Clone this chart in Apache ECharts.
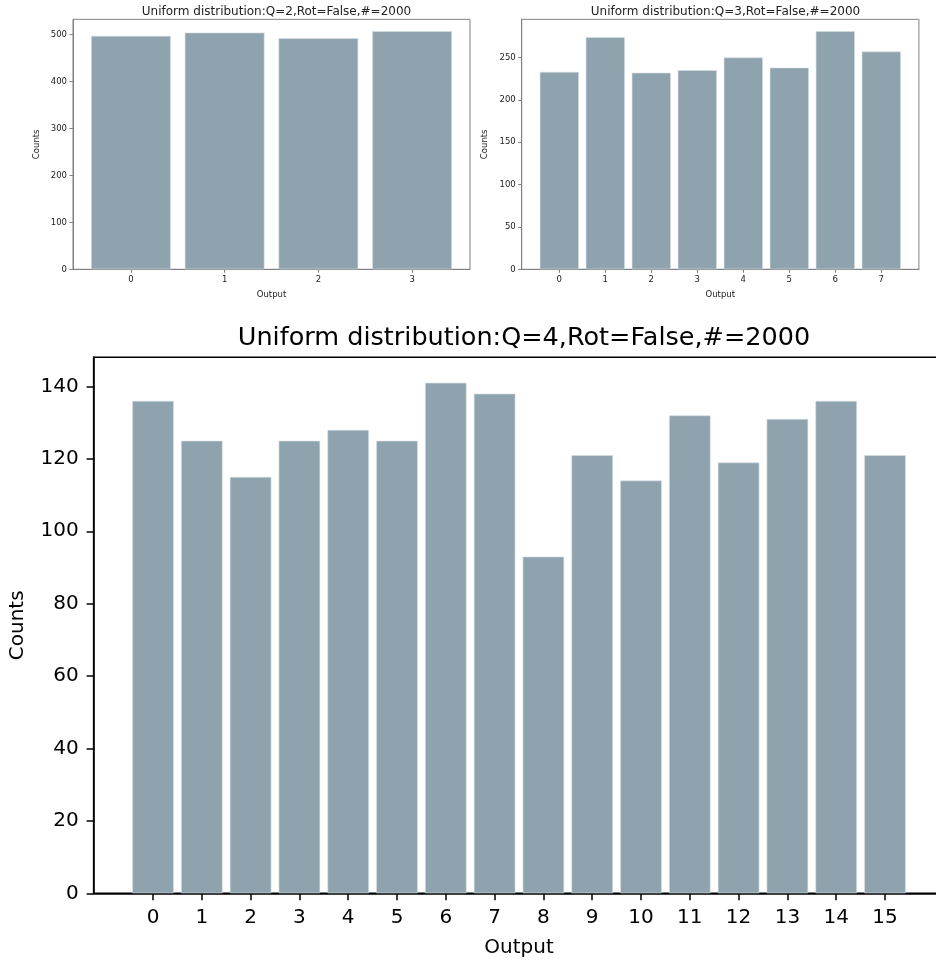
<!DOCTYPE html>
<html>
<head>
<meta charset="utf-8">
<title>Uniform distribution histograms</title>
<script src="https://cdn.jsdelivr.net/npm/echarts@6/dist/echarts.min.js"></script>
<style>
  html, body { margin: 0; padding: 0; background: #ffffff; }
  #chart { width: 936px; height: 960px; }
</style>
</head>
<body>
<div id="chart"></div>
<script>
// Measured counts per output value, 2000 samples each
const titleQ2 = 'Uniform distribution:Q=2,Rot=False,#=2000';
const titleQ3 = 'Uniform distribution:Q=3,Rot=False,#=2000';
const titleQ4 = 'Uniform distribution:Q=4,Rot=False,#=2000';

const outputsQ2 = [0, 1, 2, 3];
const countsQ2 = [497, 504, 492, 507];
const yTicksQ2 = [0, 100, 200, 300, 400, 500];

const outputsQ3 = [0, 1, 2, 3, 4, 5, 6, 7];
const countsQ3 = [233, 274, 232, 235, 250, 238, 281, 257];
const yTicksQ3 = [0, 50, 100, 150, 200, 250];

const outputsQ4 = [0, 1, 2, 3, 4, 5, 6, 7, 8, 9, 10, 11, 12, 13, 14, 15];
const countsQ4 = [136, 125, 115, 125, 128, 125, 141, 138, 93, 121, 114, 132, 119, 131, 136, 121];
const yTicksQ4 = [0, 20, 40, 60, 80, 100, 120, 140];

const BAR_COLOR = '#8fa3ae';
const BAR_EDGE = '#d5dde2';
const FONT = 'DejaVu Sans';

// Bars are 0.85 wide; axes get a 5% margin around the data like pyplot's defaults
const BAR_FRAC = 0.85;
function xLimits(xs) {
  const lo = Math.min(...xs) - BAR_FRAC / 2;
  const hi = Math.max(...xs) + BAR_FRAC / 2;
  const pad = (hi - lo) * 0.05;
  return [lo - pad, hi + pad];
}
function yMax(vals) { return Math.max(...vals) * 1.05; }

function pairs(xs, ys) { return xs.map((x, i) => [x, ys[i]]); }

function smallX(idx, xs) {
  const [lo, hi] = xLimits(xs);
  return {
    type: 'value', gridIndex: idx, min: lo, max: hi,
    name: 'Output', nameLocation: 'middle', nameGap: 21,
    nameTextStyle: { fontFamily: FONT, fontSize: 8.5, color: '#222' },
    axisLine: { show: true, onZero: false, lineStyle: { color: '#808080', width: 1 } },
    axisTick: { show: true, customValues: xs, length: 3.5, lineStyle: { color: '#808080', width: 1 } },
    axisLabel: { customValues: xs, fontFamily: FONT, fontSize: 8.5, color: '#222', margin: 6 },
    splitLine: { show: false }
  };
}
function smallY(idx, vals, ticks) {
  return {
    type: 'value', gridIndex: idx, min: 0, max: yMax(vals),
    name: 'Counts', nameLocation: 'middle', nameGap: 32,
    nameTextStyle: { fontFamily: FONT, fontSize: 8.5, color: '#222' },
    axisLine: { show: true, onZero: false, lineStyle: { color: '#808080', width: 1 } },
    axisTick: { show: true, customValues: ticks, length: 3.5, lineStyle: { color: '#808080', width: 1 } },
    axisLabel: { customValues: ticks, fontFamily: FONT, fontSize: 8.5, color: '#222', margin: 6 },
    splitLine: { show: false }
  };
}
function barSeries(idx, xs, ys) {
  return {
    type: 'bar', xAxisIndex: idx, yAxisIndex: idx,
    data: pairs(xs, ys), barWidth: (BAR_FRAC * 100) + '%',
    itemStyle: { color: BAR_COLOR, borderColor: BAR_EDGE, borderWidth: 0.6 },
    silent: true, animation: false
  };
}

const [q4lo, q4hi] = xLimits(outputsQ4);

const option = {
  backgroundColor: '#ffffff',
  animation: false,
  title: [
    { text: titleQ2, left: 271.5, top: 1, textAlign: 'center',
      textStyle: { fontFamily: FONT, fontSize: 12, fontWeight: 'normal', color: '#222' } },
    { text: titleQ3, left: 720.5, top: 1, textAlign: 'center',
      textStyle: { fontFamily: FONT, fontSize: 12, fontWeight: 'normal', color: '#222' } },
    { text: titleQ4, left: 519, top: 320, textAlign: 'center',
      textStyle: { fontFamily: FONT, fontSize: 25.5, fontWeight: 'normal', color: '#000' } }
  ],
  grid: [
    { left: 73, top: 19.3, width: 397, height: 250, show: true, outerBoundsMode: 'none',
      borderColor: '#808080', borderWidth: 1, backgroundColor: 'transparent' },
    { left: 521.7, top: 19.3, width: 397.2, height: 250, show: true, outerBoundsMode: 'none',
      borderColor: '#808080', borderWidth: 1, backgroundColor: 'transparent' },
    { left: 93.6, top: 357.3, width: 850.8, height: 536, show: true, outerBoundsMode: 'none',
      borderColor: '#000', borderWidth: 1.5, backgroundColor: 'transparent' }
  ],
  xAxis: [
    smallX(0, outputsQ2),
    smallX(1, outputsQ3),
    {
      type: 'value', gridIndex: 2, min: q4lo, max: q4hi,
      name: 'Output', nameLocation: 'middle', nameGap: 44,
      nameTextStyle: { fontFamily: FONT, fontSize: 20, color: '#000' },
      axisLine: { show: true, onZero: false, lineStyle: { color: '#000', width: 1.5 } },
      axisTick: { show: true, customValues: outputsQ4, length: 7, lineStyle: { color: '#000', width: 1.5 } },
      axisLabel: { customValues: outputsQ4, fontFamily: FONT, fontSize: 20, color: '#000', margin: 14 },
      splitLine: { show: false }
    }
  ],
  yAxis: [
    smallY(0, countsQ2, yTicksQ2),
    smallY(1, countsQ3, yTicksQ3),
    {
      type: 'value', gridIndex: 2, min: 0, max: yMax(countsQ4),
      name: 'Counts', nameLocation: 'middle', nameGap: 66,
      nameTextStyle: { fontFamily: FONT, fontSize: 20, color: '#000' },
      axisLine: { show: true, onZero: false, lineStyle: { color: '#000', width: 1.5 } },
      axisTick: { show: true, customValues: yTicksQ4, length: 7, lineStyle: { color: '#000', width: 1.5 } },
      axisLabel: { customValues: yTicksQ4, fontFamily: FONT, fontSize: 20, color: '#000', margin: 15 },
      splitLine: { show: false }
    }
  ],
  series: [
    barSeries(0, outputsQ2, countsQ2),
    barSeries(1, outputsQ3, countsQ3),
    barSeries(2, outputsQ4, countsQ4)
  ]
};

const chart = echarts.init(document.getElementById('chart'), null, { renderer: 'canvas' });
chart.setOption(option);
</script>
</body>
</html>
